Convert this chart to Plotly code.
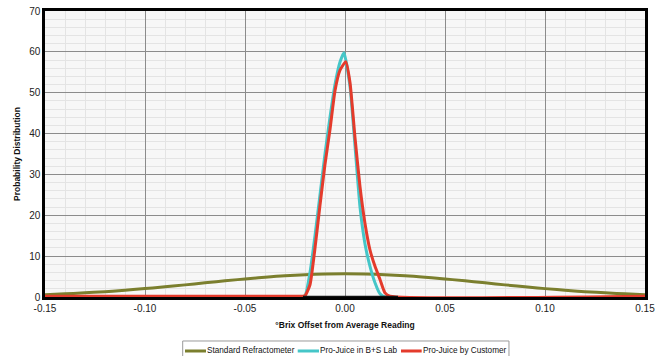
import plotly.graph_objects as go

# Standard Refractometer (olive)
std_x = [-0.15, -0.14, -0.13, -0.12, -0.11, -0.10, -0.09, -0.08, -0.07, -0.06, -0.05, -0.04,
         -0.03, -0.02, -0.01, 0.00, 0.01, 0.02, 0.03, 0.04, 0.05, 0.06, 0.07, 0.08, 0.09,
         0.10, 0.11, 0.12, 0.13, 0.14, 0.15]
std_y = [0.57, 0.77, 1.02, 1.31, 1.66, 2.05, 2.49, 2.97, 3.46, 3.95, 4.42, 4.84,
         5.20, 5.47, 5.64, 5.70, 5.64, 5.47, 5.20, 4.84, 4.42, 3.95, 3.46, 2.97, 2.49,
         2.05, 1.66, 1.31, 1.02, 0.77, 0.57]

# Pro-Juice in B+S Lab (cyan)
lab_x = [-0.15, -0.0225, -0.020, -0.0175, -0.015, -0.0125, -0.010, -0.0075, -0.005, -0.0025,
         -0.0005, 0.0025, 0.005, 0.0075, 0.010, 0.0125, 0.015, 0.0175, 0.020, 0.15]
lab_y = [0.0, 0.0, 0.3, 6.0, 15.0, 25.0, 35.0, 44.0, 52.0, 57.5,
         59.8, 51.5, 37.0, 22.0, 13.0, 7.5, 3.5, 0.8, 0.0, 0.0]

# Pro-Juice by Customer (red)
cus_x = [-0.15, -0.0215, -0.020, -0.0175, -0.015, -0.0125, -0.010, -0.0075, -0.005, -0.0025,
         0.0004, 0.0025, 0.005, 0.0075, 0.010, 0.0125, 0.015, 0.0175, 0.020, 0.0225, 0.15]
cus_y = [0.2, 0.2, 0.3, 3.0, 12.0, 22.5, 32.5, 41.0, 50.5, 55.5,
         57.6, 52.5, 39.0, 27.0, 18.0, 11.5, 7.5, 4.3, 1.0, 0.2, 0.2]

# unlabeled baseline segment (black)
base_x = [-0.021, 0.0265]
base_y = [0.0, 0.0]

series_names = ["Standard Refractometer", "Pro-Juice in B+S Lab", "Pro-Juice by Customer"]
series_colors = ["#7b7f2e", "#45c6c8", "#e43b2c"]

x_ticks = [-0.15, -0.10, -0.05, 0.00, 0.05, 0.10, 0.15]
x_ticktext = ["-0.15", "-0.10", "-0.05", "0.00", "0.05", "0.10", "0.15"]
y_ticks = [0, 10, 20, 30, 40, 50, 60, 70]

FONT = "Liberation Sans, Arial, sans-serif"

fig = go.Figure()
for xs, ys, name, col, sm in [(std_x, std_y, series_names[0], series_colors[0], 1.0),
                              (lab_x, lab_y, series_names[1], series_colors[1], 0.5),
                              (cus_x, cus_y, series_names[2], series_colors[2], 0.5)]:
    fig.add_trace(go.Scatter(x=xs, y=ys, mode="lines", name=name, showlegend=False,
                             line=dict(color=col, width=3, shape="spline", smoothing=sm)))
fig.add_trace(go.Scatter(x=base_x, y=base_y, mode="lines", showlegend=False,
                         line=dict(color="#111111", width=2.5)))

# legend drawn as a boxed row below the plot (paper coordinates)
legend_line_x = [(0.2333, 0.2683), (0.4212, 0.4567), (0.5933, 0.6278)]
legend_text_x = [0.2665, 0.455, 0.626]
leg_y = -0.1888
shapes = [dict(type="rect", xref="paper", yref="paper", x0=0.2295, x1=0.7733,
               y0=-0.1538, y1=-0.2203, line=dict(color="#9a9a9a", width=1),
               fillcolor="white", layer="below")]
annotations = []
for (lx0, lx1), tx, name, col in zip(legend_line_x, legend_text_x, series_names, series_colors):
    shapes.append(dict(type="line", xref="paper", yref="paper", x0=lx0, x1=lx1,
                       y0=leg_y, y1=leg_y, line=dict(color=col, width=3)))
    annotations.append(dict(xref="paper", yref="paper", x=tx, y=leg_y, text=name,
                            showarrow=False, xanchor="left", yanchor="middle",
                            font=dict(size=8.2, color="#111", family=FONT)))

fig.update_layout(
    width=664, height=356,
    margin=dict(l=45, r=19, t=11, b=59, autoexpand=False),
    paper_bgcolor="white",
    plot_bgcolor="#f7f7f7",
    font=dict(family=FONT, size=10, color="#222"),
    showlegend=False,
    shapes=shapes,
    annotations=annotations,
)
fig.update_xaxes(
    range=[-0.15, 0.15], tickvals=x_ticks, ticktext=x_ticktext, automargin=False,
    showgrid=True, gridcolor="#8c8c8c", gridwidth=1,
    minor=dict(dtick=0.01, showgrid=True, gridcolor="#e4e4e4", gridwidth=1),
    showline=True, linecolor="black", linewidth=2.5, mirror=True,
    zeroline=False, ticks="", tickfont=dict(size=10, color="#222"),
    title=dict(text="<b>°Brix Offset from Average Reading</b>", font=dict(size=8.5, color="#111"), standoff=10),
)
fig.update_yaxes(
    range=[0, 70], tickvals=y_ticks, automargin=False,
    showgrid=True, gridcolor="#8c8c8c", gridwidth=1,
    minor=dict(dtick=2, showgrid=True, gridcolor="#e4e4e4", gridwidth=1),
    showline=True, linecolor="black", linewidth=2.5, mirror=True,
    zeroline=False, ticks="", tickfont=dict(size=10, color="#222"),
    title=dict(text="<b>Probability Distribution</b>", font=dict(size=8.5, color="#111"), standoff=8),
)

fig.write_html("out.html", config={"displayModeBar": False},
               post_script="document.body.style.margin='0px';")
